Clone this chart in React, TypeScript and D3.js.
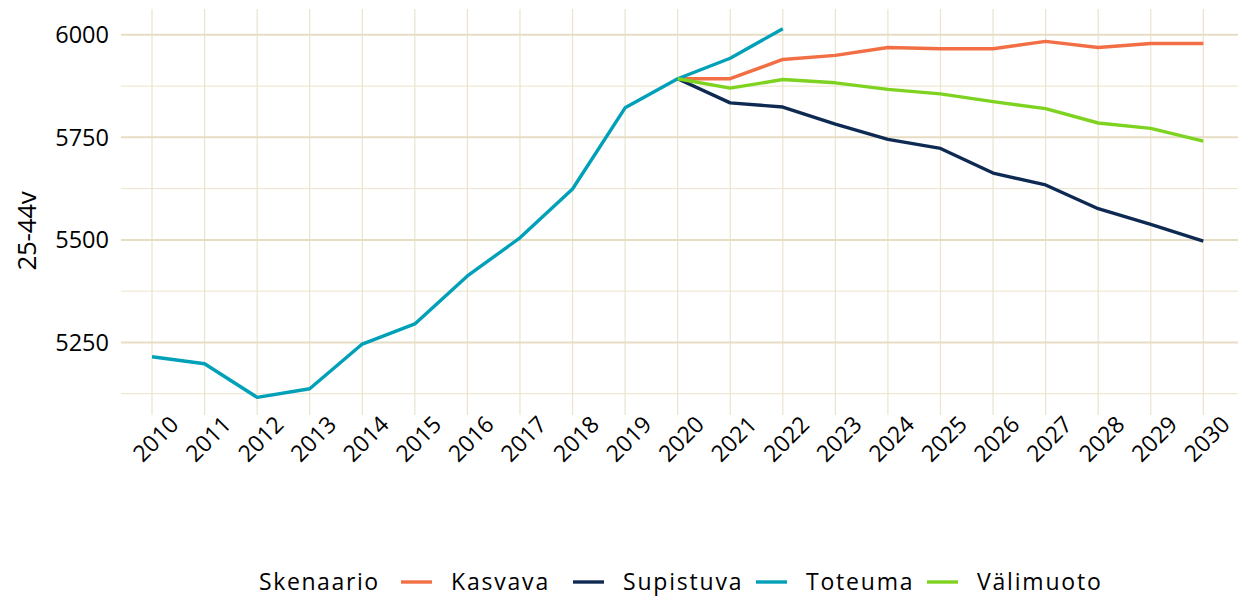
import React, { useEffect, useRef } from "react";
import * as d3 from "d3";

// vuodet ja skenaariot
const years = d3.range(2010, 2031);
const toteumaYears = d3.range(2010, 2023);
const toteuma = [5215, 5198, 5116, 5137, 5246, 5295, 5412, 5505, 5624, 5822, 5893, 5943, 6015];
const scenarioYears = d3.range(2020, 2031);
const kasvava = [5893, 5893, 5940, 5950, 5969, 5966, 5966, 5984, 5969, 5979, 5979];
const supistuva = [5893, 5834, 5824, 5782, 5745, 5723, 5663, 5634, 5576, 5538, 5497];
const valimuoto = [5893, 5870, 5891, 5883, 5867, 5856, 5837, 5820, 5785, 5772, 5741];
const yMajor = [5250, 5500, 5750, 6000];
const yMinor = [5125, 5375, 5625, 5875];
const legendNames = ["Kasvava", "Supistuva", "Toteuma", "Välimuoto"];

const colors: Record<string, string> = {
  Kasvava: "#f26f45",
  Supistuva: "#0f2a52",
  Toteuma: "#00a0b9",
  Välimuoto: "#7ed321",
};

const FONT = "'Open Sans', sans-serif";

export default function App() {
  const ref = useRef<SVGSVGElement>(null);

  useEffect(() => {
    const svg = d3.select(ref.current);
    svg.selectAll("*").remove();

    const left = 121, right = 1238, top = 9, bottom = 415;
    const x = d3.scaleLinear().domain([2009.41, 2030.66]).range([left, right]);
    const y = d3.scaleLinear().domain([5073, 6063]).range([bottom, top]);

    const g = svg.append("g");

    // grid
    g.selectAll(".ymin")
      .data(yMinor)
      .join("line")
      .attr("x1", left).attr("x2", right)
      .attr("y1", d => y(d)).attr("y2", d => y(d))
      .attr("stroke", "#ebe3cc").attr("stroke-width", 1);
    g.selectAll(".xgrid")
      .data(years)
      .join("line")
      .attr("x1", d => x(d)).attr("x2", d => x(d))
      .attr("y1", top).attr("y2", bottom)
      .attr("stroke", "#ebe3cc").attr("stroke-width", 1.2);
    g.selectAll(".ymaj")
      .data(yMajor)
      .join("line")
      .attr("x1", left).attr("x2", right)
      .attr("y1", d => y(d)).attr("y2", d => y(d))
      .attr("stroke", "#e6ddc4").attr("stroke-width", 2);

    // lines
    const series = [
      { name: "Kasvava", xs: scenarioYears, vs: kasvava },
      { name: "Supistuva", xs: scenarioYears, vs: supistuva },
      { name: "Toteuma", xs: toteumaYears, vs: toteuma },
      { name: "Välimuoto", xs: scenarioYears, vs: valimuoto },
    ];
    const line = d3.line<[number, number]>()
      .x(d => x(d[0]))
      .y(d => y(d[1]));
    series.forEach(s => {
      g.append("path")
        .datum(s.xs.map((yr, i) => [yr, s.vs[i]] as [number, number]))
        .attr("fill", "none")
        .attr("stroke", colors[s.name])
        .attr("stroke-width", 3.4)
        .attr("stroke-linejoin", "round")
        .attr("d", line);
    });

    // y axis labels
    g.selectAll(".ylab")
      .data(yMajor)
      .join("text")
      .attr("x", 109)
      .attr("y", d => y(d))
      .attr("dy", "0.36em")
      .attr("text-anchor", "end")
      .style("font-family", FONT)
      .style("font-size", "23.5px")
      .style("font-weight", 500)
      .attr("fill", "#000")
      .text(d => d);

    // x axis labels
    g.selectAll(".xlab")
      .data(years)
      .join("text")
      .attr("transform", d => `translate(${x(d) + 28}, 426) rotate(-45)`)
      .attr("text-anchor", "end")
      .style("font-family", FONT)
      .style("font-size", "23px")
      .style("font-weight", 500)
      .attr("fill", "#000")
      .text(d => d);

    // y title
    g.append("text")
      .attr("transform", "translate(36, 231) rotate(-90)")
      .attr("text-anchor", "middle")
      .style("font-family", FONT)
      .style("font-size", "26px")
      .style("font-weight", 500)
      .style("letter-spacing", "-0.3px")
      .attr("fill", "#000")
      .text("25-44v");

    // legend
    const ly = 582;
    g.append("text")
      .attr("x", 259).attr("y", ly).attr("dy", "0.36em")
      .style("font-family", FONT).style("font-size", "23px")
      .style("font-weight", 500)
      .style("letter-spacing", "1.6px")
      .text("Skenaario");
    const keyX = [401, 573, 756, 927];
    legendNames.forEach((n, i) => {
      g.append("line")
        .attr("x1", keyX[i]).attr("x2", keyX[i] + 31)
        .attr("y1", ly).attr("y2", ly)
        .attr("stroke", colors[n]).attr("stroke-width", 3.4);
      g.append("text")
        .attr("x", keyX[i] + 50).attr("y", ly).attr("dy", "0.36em")
        .style("font-family", FONT).style("font-size", "23px")
        .style("font-weight", 500)
        .style("letter-spacing", "1.8px")
        .text(n);
    });
  }, []);

  return (
    <svg
      ref={ref}
      width={1250}
      height={601}
      style={{ position: "absolute", left: 0, top: 0, background: "#fff" }}
    />
  );
}
